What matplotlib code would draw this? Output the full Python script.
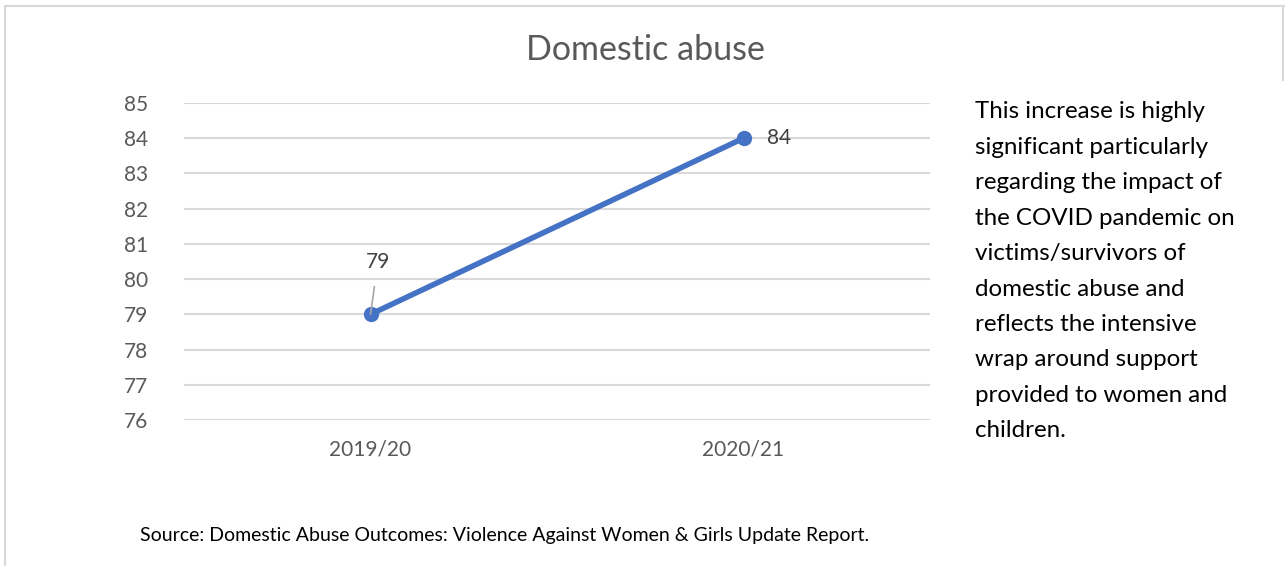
import matplotlib
matplotlib.use("Agg")
import matplotlib.pyplot as plt
from matplotlib.lines import Line2D

categories = ["2019/20", "2020/21"]
values = [79, 84]
y_ticks = [76, 77, 78, 79, 80, 81, 82, 83, 84, 85]
title = "Domestic abuse"
note_lines = [
    "This increase is highly",
    "significant particularly",
    "regarding the impact of",
    "the COVID pandemic on",
    "victims/survivors of",
    "domestic abuse and",
    "reflects the intensive",
    "wrap around support",
    "provided to women and",
    "children.",
]
source = "Source: Domestic Abuse Outcomes: Violence Against Women & Girls Update Report."

plt.rcParams['font.family'] = ['Lato', 'DejaVu Sans']
W, H = 1285, 566
fig = plt.figure(figsize=(W / 100, H / 100), dpi=100)
fig.patch.set_facecolor("white")

# outer border
fig.add_artist(Line2D([5 / W, 5 / W], [0, 1 - 6 / H], transform=fig.transFigure, color="#d9d9d9", lw=1.5))
fig.add_artist(Line2D([5 / W, 1], [1 - 6 / H, 1 - 6 / H], transform=fig.transFigure, color="#d9d9d9", lw=1.5))
fig.add_artist(Line2D([1283 / W, 1283 / W], [1 - 6 / H, 1 - 80 / H], transform=fig.transFigure, color="#d9d9d9", lw=1.5))

# axes: x 184..930, y 103..420
ax = fig.add_axes([184 / W, 1 - 420 / H, (930 - 184) / W, (420 - 103) / H])
x = list(range(len(categories)))
ax.plot(x, values, color="#4472c4", lw=4, marker="o", markersize=10, solid_capstyle="round", zorder=3)
ax.set_xlim(-0.5, len(categories) - 0.5)
ax.set_ylim(min(y_ticks), max(y_ticks))
ax.set_yticks(y_ticks)
ax.set_xticks(x)
ax.set_xticklabels(categories)
ax.grid(axis="y", color="#d9d9d9", lw=1.5)
ax.set_axisbelow(True)
for s in ax.spines.values():
    s.set_visible(False)
ax.tick_params(axis="both", length=0, colors="#595959", labelsize=15)
ax.tick_params(axis="y", pad=26)
ax.tick_params(axis="x", pad=14)

# data labels
ax.annotate(str(values[0]), xy=(x[0], values[0]), xytext=(x[0] + 0.02, values[0] + 1.5),
            ha="center", va="center", fontsize=15, color="#404040",
            arrowprops=dict(arrowstyle="-", color="#a6a6a6", lw=1.2, shrinkA=9, shrinkB=0))
ax.annotate(str(values[1]), xy=(x[1], values[1]), xytext=(17, 0), textcoords="offset points",
            ha="left", va="center", fontsize=15, color="#404040")

fig.text(645 / W, 1 - 50 / H, title, ha="center", va="center", fontsize=24.5, color="#595959")

for i, line in enumerate(note_lines):
    fig.text(975 / W, 1 - (112 + i * 35.4) / H, line, ha="left", va="center", fontsize=17.4, color="black")

fig.text(140 / W, 1 - 535 / H, source, ha="left", va="center", fontsize=14, color="black")

fig.savefig("out.png", dpi=100)
